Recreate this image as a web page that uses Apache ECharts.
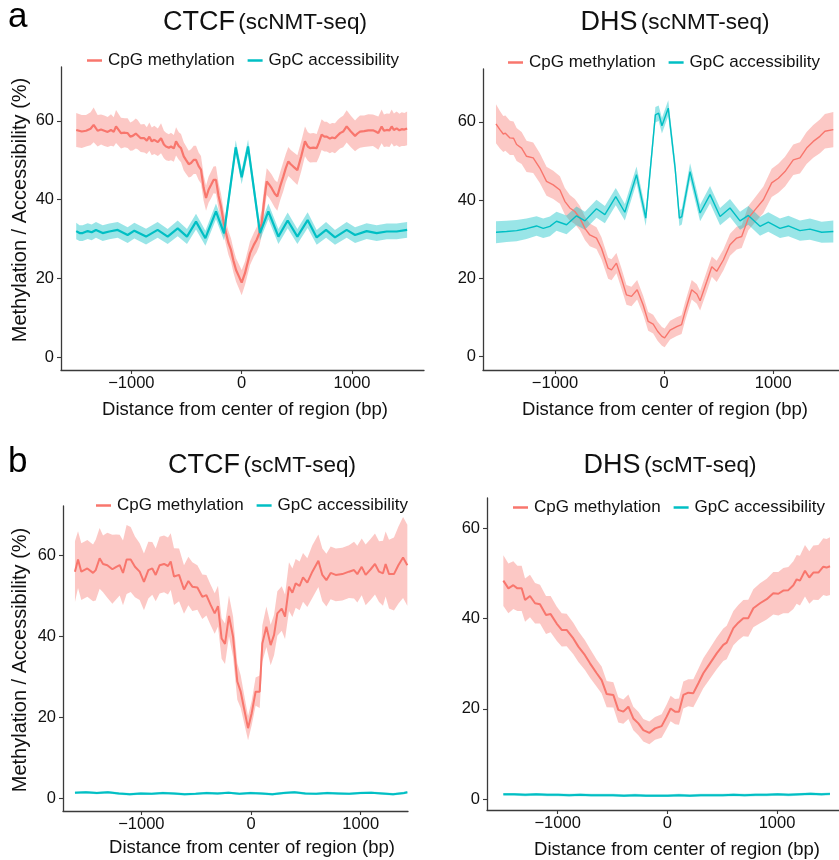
<!DOCTYPE html>
<html>
<head>
<meta charset="utf-8">
<script src="https://cdn.jsdelivr.net/npm/echarts@6/dist/echarts.min.js"></script>
<style>
  html, body { margin: 0; padding: 0; background: #ffffff; }
  #chart { width: 839px; height: 860px; }
</style>
</head>
<body>
<div id="chart"></div>
<script>
// Profiles of CpG methylation and GpC accessibility around CTCF sites and DHS
// Each series: position (bp from centre), mean (%), half-width of the ribbon (%)

const SERIES_NAMES = ['CpG methylation', 'GpC accessibility'];
const PANEL_TITLES = [['CTCF', '(scNMT-seq)'], ['DHS', '(scNMT-seq)'], ['CTCF', '(scMT-seq)'], ['DHS', '(scMT-seq)']];
const X_TICKS = [-1000, 0, 1000];
const Y_TICKS = [0, 20, 40, 60];

// --- CTCF, scNMT-seq ---
const ctcfNmtCpgPos = [-1500,-1450,-1411,-1370,-1342,-1306,-1275,-1245,-1215,-1185,-1160,-1139,-1094,-1060,-1034,-1010,-988,-960,-943,-915,-883,-860,-837,-815,-792,-760,-731,-705,-686,-660,-641,-615,-595,-570,-550,-525,-505,-480,-459,-435,-414,-390,-369,-345,-323,-300,-278,-255,-233,-210,-187,-165,-142,-120,-97,-75,-51,-25,0,30,76,110,136,160,181,205,227,250,272,300,323,350,378,400,423,445,468,505,540,574,600,620,650,680,700,725,750,771,800,820,846,870,892,920,952,990,1028,1050,1073,1110,1148,1190,1215,1239,1269,1290,1315,1340,1360,1380,1405,1430,1451,1475,1500];
const ctcfNmtCpgMean = [57.7,57.3,57.5,58.0,59.0,57.5,57.8,57.5,57.2,57.7,57.2,58.6,56.9,57.0,56.9,56.0,56.2,56.8,56.5,55.6,55.6,55.0,56.0,54.8,55.2,54.6,55.6,54.0,53.5,53.2,53.5,53.0,54.8,53.6,53.1,51.0,50.1,49.0,49.3,50.1,50.1,48.5,47.6,43.0,40.4,42.5,43.7,45.0,45.0,41.0,38.2,34.5,31.5,29.0,27.2,24.5,22.1,20.5,18.9,21.3,26.4,28.5,29.8,31.5,34.0,40.0,44.6,43.8,42.9,41.5,40.8,43.5,45.9,48.0,49.7,49.0,48.4,47.5,51.0,54.8,53.5,53.1,53.2,53.1,54.5,56.5,56.0,56.0,55.5,55.8,55.6,56.3,56.9,57.3,58.6,57.3,56.2,56.8,57.3,57.4,57.6,57.6,57.3,56.9,58.6,57.5,57.7,57.6,58.6,57.7,58.1,57.6,57.9,57.8,58.1];
const ctcfNmtCpgHalf = [4.3,4.2,4.0,4.2,4.4,4.0,3.8,3.9,3.8,4.0,3.7,4.2,3.9,3.7,3.8,3.6,3.7,3.8,3.7,3.5,3.6,3.4,3.6,3.5,3.6,3.5,3.8,3.5,3.5,3.4,3.5,3.4,3.6,3.5,3.6,3.6,3.5,3.4,3.5,3.6,3.6,3.5,3.5,3.3,3.2,3.3,3.4,3.4,3.5,3.3,3.2,3.1,3.0,3.0,3.0,3.0,3.0,3.1,3.2,3.0,3.0,3.0,3.2,3.3,3.3,3.4,3.4,3.4,3.5,3.5,3.6,3.6,3.7,3.6,3.7,3.6,3.7,3.8,3.8,3.8,3.6,3.7,3.7,3.6,3.8,3.9,3.8,3.8,3.7,3.7,3.8,3.9,3.9,4.0,4.1,4.0,3.9,4.0,4.1,4.0,4.1,4.0,4.1,4.2,4.3,4.1,4.2,4.2,4.3,4.2,4.3,4.2,4.3,4.2,4.3];
const ctcfNmtGpcPos = [-1500,-1470,-1442,-1396,-1360,-1321,-1260,-1200,-1124,-1034,-973,-867,-762,-671,-580,-496,-414,-329,-233,-160,-54,0,58,166,242,333,417,505,598,680,765,846,952,1028,1133,1224,1315,1405,1500];
const ctcfNmtGpcMean = [32.0,31.5,31.5,32.0,31.7,32.3,31.5,31.9,32.3,31.0,32.1,30.6,32.3,30.6,32.7,30.6,34.4,30.2,37.0,31.4,53.3,45.7,53.5,31.5,37.0,30.6,34.7,30.6,34.8,30.4,32.3,30.4,32.3,31.0,32.0,31.5,31.9,31.9,32.3];
const ctcfNmtGpcHalf = [2.1,2.0,2.0,2.0,2.0,2.0,2.0,2.0,2.0,2.0,2.0,2.0,2.0,1.9,2.0,1.9,2.0,1.9,2.0,1.8,1.8,1.8,1.8,1.8,2.0,1.9,2.0,1.9,2.0,1.9,2.0,1.9,2.0,2.0,2.0,2.0,2.0,2.0,2.0];

// --- DHS, scNMT-seq ---
const dhsNmtCpgPos = [-1541,-1505,-1474,-1455,-1413,-1380,-1352,-1306,-1261,-1200,-1139,-1078,-1016,-955,-910,-864,-818,-772,-726,-681,-620,-574,-513,-482,-437,-391,-345,-299,-247,-192,-146,-100,-60,-20,5,55,116,160,192,253,300,330,391,437,482,543,604,665,711,772,833,910,986,1047,1108,1184,1245,1306,1367,1428,1474,1551];
const dhsNmtCpgMean = [59.5,58.0,56.9,57.1,55.9,55.8,54.2,53.3,51.2,50.8,48.2,44.8,43.9,42.6,39.7,38.0,37.1,35.4,32.8,31.1,30.3,27.7,22.6,22.2,23.9,20.0,15.8,15.4,17.1,13.2,9.0,8.3,6.5,5.2,4.8,6.8,7.7,8.2,11.5,17.1,16.0,14.3,19.2,23.0,21.8,24.7,28.6,30.3,30.7,35.4,37.5,40.1,44.4,45.6,47.3,50.3,50.8,53.3,55.0,56.3,57.6,58.0];
const dhsNmtCpgHalf = [5.0,4.8,4.6,4.5,4.4,4.3,4.2,4.1,4.0,3.9,3.8,3.7,3.6,3.5,3.4,3.3,3.2,3.1,3.0,2.9,2.8,2.8,2.7,2.7,2.6,2.6,2.5,2.5,2.5,2.4,2.4,2.4,2.4,2.4,2.4,2.4,2.4,2.4,2.4,2.5,2.5,2.5,2.6,2.6,2.7,2.7,2.8,2.9,2.9,3.1,3.2,3.4,3.6,3.7,3.8,3.9,4.0,4.1,4.2,4.3,4.4,4.5];
const dhsNmtGpcPos = [-1541,-1444,-1352,-1261,-1169,-1108,-1047,-986,-894,-803,-726,-620,-543,-443,-360,-253,-168,-80,-50,-20,38,101,140,162,238,330,421,513,604,696,772,879,955,1062,1139,1245,1337,1444,1551];
const dhsNmtGpcMean = [31.8,32.0,32.2,32.7,33.4,32.8,33.3,34.6,33.7,36.0,34.7,37.8,36.3,40.9,36.9,46.5,35.4,61.8,62.2,59.0,63.5,48.2,35.4,35.8,47.3,36.7,41.4,35.8,38.0,34.7,36.1,33.3,34.4,32.8,33.4,32.2,32.6,31.8,32.0];
const dhsNmtGpcHalf = [2.8,2.7,2.7,2.6,2.5,2.5,2.5,2.4,2.4,2.4,2.3,2.3,2.2,2.2,2.1,2.1,2.0,2.0,2.0,2.0,2.0,2.0,2.0,2.0,2.1,2.1,2.2,2.2,2.3,2.3,2.4,2.4,2.5,2.5,2.6,2.6,2.7,2.7,2.8];

// --- CTCF, scMT-seq ---
const ctcfMtCpgPos = [-1605,-1577,-1547,-1492,-1440,-1416,-1380,-1349,-1310,-1264,-1228,-1197,-1167,-1134,-1097,-1058,-1015,-976,-936,-900,-869,-833,-793,-757,-732,-702,-656,-611,-571,-535,-489,-444,-407,-368,-331,-301,-268,-237,-201,-164,-125,-94,-64,-27,6,42,79,103,140,179,210,240,280,310,346,377,407,443,474,513,559,614,650,687,726,772,832,893,939,969,1009,1045,1091,1130,1167,1203,1227,1258,1303,1343,1386,1425];
const ctcfMtCpgMean = [55.9,58.9,55.9,56.7,55.6,56.3,59.2,57.8,57.5,56.5,57.1,57.5,55.6,58.9,58.9,57.1,55.9,53.4,56.3,56.7,55.1,57.5,57.8,57.3,58.4,54.7,55.1,51.5,53.6,52.2,52.0,49.7,50.1,47.7,45.6,47.4,39.4,38.1,45.0,39.9,28.8,26.3,22.2,17.3,21.0,26.3,26.3,38.2,42.3,37.8,40.3,45.6,46.8,44.8,52.2,50.7,53.0,52.4,54.5,53.2,55.9,58.6,55.1,53.8,55.6,55.1,55.3,55.9,56.3,55.3,57.1,55.1,56.5,57.8,55.9,55.5,57.8,55.3,55.3,57.5,59.4,57.5];
const ctcfMtCpgHalf = [7.5,7.0,7.0,7.0,7.0,7.5,7.5,7.0,8.0,8.5,8.0,7.5,8.0,8.5,8.0,7.5,7.0,7.0,7.0,6.5,6.5,7.0,7.0,7.0,7.0,7.0,6.5,6.0,6.0,6.0,5.5,5.5,5.0,5.0,5.0,5.0,5.0,5.0,5.0,5.0,4.5,4.0,3.5,3.0,3.0,3.5,4.0,4.5,5.0,5.0,5.0,5.5,5.5,5.5,6.0,6.0,6.0,6.0,6.0,6.0,6.5,6.5,6.5,6.5,6.5,6.5,6.5,6.5,7.0,7.0,7.0,7.5,7.5,7.5,7.5,8.0,8.0,8.5,9.0,9.5,10.0,10.0];
const ctcfMtGpcPos = [-1605,-1505,-1405,-1305,-1205,-1105,-1005,-905,-805,-705,-605,-505,-405,-305,-205,-105,-5,95,195,295,395,495,595,695,795,895,995,1095,1195,1295,1395,1425];
const ctcfMtGpcMean = [1.4,1.5,1.3,1.5,1.2,1.0,1.2,1.1,1.3,1.2,1.0,1.1,1.3,1.2,1.4,1.1,1.3,1.2,1.0,1.3,1.5,1.2,1.1,1.3,1.2,1.1,1.3,1.4,1.2,1.0,1.3,1.5];
const ctcfMtGpcHalf = [0.3,0.3,0.3,0.3,0.3,0.3,0.3,0.3,0.3,0.3,0.3,0.3,0.3,0.3,0.3,0.3,0.3,0.3,0.3,0.3,0.3,0.3,0.3,0.3,0.3,0.3,0.3,0.3,0.3,0.3,0.3,0.3];

// --- DHS, scMT-seq ---
const dhsMtCpgPos = [-1495,-1449,-1404,-1367,-1328,-1297,-1252,-1206,-1161,-1106,-1064,-1009,-963,-918,-857,-811,-751,-705,-644,-599,-553,-492,-447,-401,-355,-310,-264,-219,-164,-112,-52,-6,30,70,106,146,191,237,283,328,389,450,510,541,602,647,693,738,784,845,906,966,1012,1057,1103,1149,1179,1209,1255,1294,1331,1377,1422,1452,1483];
const dhsMtCpgMean = [48.4,46.7,47.4,46.7,46.7,44.1,45.0,43.4,43.2,40.8,41.0,38.9,37.5,37.5,35.6,33.8,31.9,30.1,27.9,26.4,23.3,23.1,19.8,19.4,20.5,17.9,16.8,15.3,14.7,15.7,16.2,18.3,20.1,19.4,19.4,23.1,23.6,23.5,25.7,27.9,30.1,32.3,34.2,34.7,37.9,39.1,40.1,40.1,42.3,43.4,44.3,45.6,45.5,46.2,46.3,47.4,48.7,48.4,50.6,49.1,50.2,50.2,51.5,51.3,51.6];
const dhsMtCpgHalf = [5.6,5.5,5.3,5.0,5.0,4.8,4.7,4.5,4.3,4.2,4.0,3.8,3.7,3.6,3.5,3.4,3.3,3.2,3.0,3.0,2.9,2.8,2.8,2.7,2.7,2.6,2.6,2.5,2.5,2.5,2.6,2.7,2.8,2.8,2.9,3.0,3.0,3.1,3.2,3.3,3.4,3.5,3.6,3.7,3.8,3.9,4.0,4.1,4.2,4.4,4.5,4.7,4.8,5.0,5.1,5.3,5.4,5.5,5.7,5.8,6.0,6.1,6.3,6.3,6.4];
const dhsMtGpcPos = [-1495,-1395,-1295,-1195,-1095,-995,-895,-795,-695,-595,-495,-395,-295,-195,-95,5,105,205,305,405,505,605,705,805,905,1005,1105,1205,1305,1405,1483];
const dhsMtGpcMean = [1.1,1.1,1.0,1.1,1.0,1.0,0.9,1.0,0.9,0.9,0.9,0.8,0.9,0.8,0.8,0.8,0.9,0.8,0.9,0.9,0.9,1.0,0.9,1.0,1.0,1.1,1.0,1.1,1.2,1.1,1.2];
const dhsMtGpcHalf = [0.3,0.3,0.3,0.3,0.3,0.3,0.3,0.3,0.3,0.3,0.3,0.3,0.3,0.3,0.3,0.3,0.3,0.3,0.3,0.3,0.3,0.3,0.3,0.3,0.3,0.3,0.3,0.3,0.3,0.3,0.3];

// ---------------------------------------------------------------------------
const RED = '#F8766D';
const TEAL = '#00BFC4';
const RED_FILL = 'rgba(248,118,109,0.4)';
const TEAL_FILL = 'rgba(0,191,196,0.4)';
const FONT = '"Liberation Sans", Arial, Helvetica, sans-serif';
const AXIS_COLOR = '#3a3a3a';

// layout of the four panels (pixel boxes and axis ranges)
const panels = [
  { grid: { left: 61, top: 67, width: 363, height: 303 }, x: [-1638, 1653], y: [-3.3, 73.7], lw: 2.2,
    cpg: [ctcfNmtCpgPos, ctcfNmtCpgMean, ctcfNmtCpgHalf], gpc: [ctcfNmtGpcPos, ctcfNmtGpcMean, ctcfNmtGpcHalf],
    legend: { left: 82, top: 47 }, title: [265, 23], xTitle: [245, 410] },
  { grid: { left: 483, top: 69, width: 356, height: 301 }, x: [-1660, 1603], y: [-3.4, 73.5], lw: 1.4,
    cpg: [dhsNmtCpgPos, dhsNmtCpgMean, dhsNmtCpgHalf], gpc: [dhsNmtGpcPos, dhsNmtGpcMean, dhsNmtGpcHalf],
    legend: { left: 503, top: 49 }, title: [675, 23], xTitle: [665, 410] },
  { grid: { left: 63, top: 506, width: 345, height: 305 }, x: [-1714, 1431], y: [-3.13, 72.1], lw: 2.0,
    cpg: [ctcfMtCpgPos, ctcfMtCpgMean, ctcfMtCpgHalf], gpc: [ctcfMtGpcPos, ctcfMtGpcMean, ctcfMtGpcHalf],
    legend: { left: 91, top: 492 }, title: [262, 466], xTitle: [252, 848] },
  { grid: { left: 487, top: 498, width: 352, height: 312 }, x: [-1644, 1565], y: [-2.37, 66.7], lw: 2.0,
    cpg: [dhsMtCpgPos, dhsMtCpgMean, dhsMtCpgHalf], gpc: [dhsMtGpcPos, dhsMtGpcMean, dhsMtGpcHalf],
    legend: { left: 508, top: 494 }, title: [670, 466], xTitle: [677, 850] }
];

function fmtTick(v) {
  return v < 0 ? '\u2212' + Math.abs(v) : String(v);
}

function ribbon(gi, triple, fill) {
  const [pos, mean, half] = triple;
  const rows = pos.map((p, i) => [p, mean[i] - half[i], mean[i] + half[i]]);
  return {
    type: 'custom', xAxisIndex: gi, yAxisIndex: gi, silent: true, z: 1,
    data: rows, encode: { x: 0, y: [1, 2] },
    renderItem(params, api) {
      if (params.dataIndex !== 0) return null;
      const pts = [];
      for (let i = 0; i < rows.length; i++) pts.push(api.coord([rows[i][0], rows[i][2]]));
      for (let i = rows.length - 1; i >= 0; i--) pts.push(api.coord([rows[i][0], rows[i][1]]));
      return { type: 'polygon', shape: { points: pts }, style: { fill: fill } };
    }
  };
}

function line(gi, name, triple, color, width) {
  const [pos, mean] = triple;
  return {
    type: 'line', name: name, xAxisIndex: gi, yAxisIndex: gi, z: 3,
    data: pos.map((p, i) => [p, mean[i]]),
    showSymbol: false, symbol: 'none', smooth: false,
    lineStyle: { color: color, width: width },
    itemStyle: { color: color }
  };
}

const grids = [], xAxes = [], yAxes = [], series = [], legends = [], graphics = [];
panels.forEach((p, gi) => {
  grids.push(Object.assign({ containLabel: false }, p.grid));
  xAxes.push({
    type: 'value', gridIndex: gi, min: p.x[0], max: p.x[1],
    axisLine: { show: true, onZero: false, lineStyle: { color: AXIS_COLOR, width: 1.3 } },
    axisTick: { show: true, length: 4, customValues: X_TICKS, lineStyle: { color: AXIS_COLOR, width: 1.1 } },
    axisLabel: { customValues: X_TICKS, formatter: fmtTick, fontSize: 16.5, color: '#111', fontFamily: FONT, margin: 5 },
    splitLine: { show: false }
  });
  yAxes.push({
    type: 'value', gridIndex: gi, min: p.y[0], max: p.y[1],
    axisLine: { show: true, onZero: false, lineStyle: { color: AXIS_COLOR, width: 1.3 } },
    axisTick: { show: true, length: 4, customValues: Y_TICKS, lineStyle: { color: AXIS_COLOR, width: 1.1 } },
    axisLabel: { customValues: Y_TICKS, fontSize: 16.5, color: '#111', fontFamily: FONT, margin: 7 },
    splitLine: { show: false }
  });
  series.push(ribbon(gi, p.cpg, RED_FILL));
  series.push(ribbon(gi, p.gpc, TEAL_FILL));
  series.push(line(gi, SERIES_NAMES[0], p.cpg, RED, p.lw));
  series.push(line(gi, SERIES_NAMES[1], p.gpc, TEAL, p.lw));
  legends.push({
    left: p.legend.left, top: p.legend.top, orient: 'horizontal',
    data: SERIES_NAMES, icon: 'rect', itemWidth: 15, itemHeight: 2.5, itemGap: 13,
    textStyle: { fontSize: 17, color: '#111', fontFamily: FONT, padding: [0, 0, 0, 1] },
    selectedMode: false
  });
  graphics.push({
    type: 'text', x: p.title[0], y: p.title[1],
    style: {
      text: '{a|' + PANEL_TITLES[gi][0] + '} {b|' + PANEL_TITLES[gi][1] + '}',
      rich: { a: { fontSize: 27, fontFamily: FONT, fill: '#111' }, b: { fontSize: 22.5, fontFamily: FONT, fill: '#111' } },
      align: 'center', verticalAlign: 'middle'
    }
  });
  graphics.push({
    type: 'text', x: p.xTitle[0], y: p.xTitle[1],
    style: { text: 'Distance from center of region (bp)', font: '18.5px ' + FONT, fill: '#111', align: 'center', verticalAlign: 'middle' }
  });
});

// y axis titles (left column) and panel letters
graphics.push({
  type: 'text', x: 20, y: 210, rotation: Math.PI / 2,
  style: { text: 'Methylation / Accessibility (%)', font: '20px ' + FONT, fill: '#111', align: 'center', verticalAlign: 'middle' }
});
graphics.push({
  type: 'text', x: 20, y: 660, rotation: Math.PI / 2,
  style: { text: 'Methylation / Accessibility (%)', font: '20px ' + FONT, fill: '#111', align: 'center', verticalAlign: 'middle' }
});
graphics.push({ type: 'text', x: 8, y: 17, style: { text: 'a', font: '35px ' + FONT, fill: '#000', verticalAlign: 'middle' } });
graphics.push({ type: 'text', x: 8, y: 462, style: { text: 'b', font: '35px ' + FONT, fill: '#000', verticalAlign: 'middle' } });

const chart = echarts.init(document.getElementById('chart'), null, { renderer: 'canvas' });
chart.setOption({
  backgroundColor: '#ffffff',
  animation: false,
  grid: grids,
  xAxis: xAxes,
  yAxis: yAxes,
  legend: legends,
  series: series,
  graphic: graphics
});
</script>
</body>
</html>
